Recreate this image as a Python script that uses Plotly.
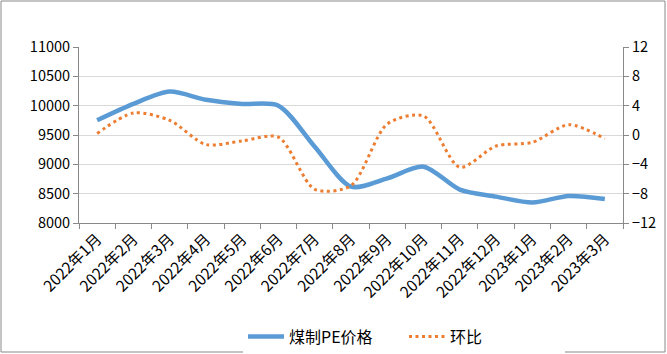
import plotly.graph_objects as go

categories = ["2022年1月", "2022年2月", "2022年3月", "2022年4月", "2022年5月", "2022年6月",
              "2022年7月", "2022年8月", "2022年9月", "2022年10月", "2022年11月", "2022年12月",
              "2023年1月", "2023年2月", "2023年3月"]
price = [9750, 10030, 10240, 10100, 10030, 10000, 9300, 8620, 8760, 8960, 8570, 8450, 8350, 8460, 8410]
mom = [0.2, 3.0, 2.0, -1.3, -0.8, -0.3, -7.4, -6.9, 1.5, 2.6, -4.4, -1.5, -1.0, 1.4, -0.5]

left_ticks = [8000, 8500, 9000, 9500, 10000, 10500, 11000]
left_labels = ["8000", "8500", "9000", "9500", "10000", "10500", "11000"]
right_ticks = [-12, -8, -4, 0, 4, 8, 12]

FONT = "Noto Sans CJK SC"

fig = go.Figure()
fig.add_trace(go.Scatter(x=categories, y=price, name="煤制PE价格", mode="lines",
                         line=dict(color="#5B9BD5", width=4.5, shape="spline", smoothing=0.8)))
fig.add_trace(go.Scatter(x=categories, y=mom, name="环比", mode="lines", yaxis="y2",
                         line=dict(color="#ED7D31", width=3, dash="3px,3.5px", shape="spline", smoothing=0.8)))

fig.update_layout(
    width=667, height=354,
    margin=dict(l=79, r=44, t=47, b=131, autoexpand=False),
    paper_bgcolor="white", plot_bgcolor="white",
    font=dict(family=FONT, size=14, color="black"),
    showlegend=True,
    legend=dict(orientation="h", x=(243 - 79) / 544, xanchor="left", y=-0.645, yanchor="middle",
                font=dict(size=16), itemwidth=36, entrywidth=110, tracegroupgap=0),
    xaxis=dict(type="category", tickangle=-45, ticks="outside", tickson="boundaries",
               ticklen=5, tickcolor="#898989", showline=True, linecolor="#898989",
               showgrid=False, tickfont=dict(size=15.5), range=[-0.5, 14.5], automargin=False),
    yaxis=dict(range=[8000, 11000], tickvals=left_ticks, ticktext=left_labels, ticks="outside", ticklen=5,
               tickcolor="#898989", showline=True, linecolor="#898989", automargin=False,
               gridcolor="#d9d9d9", gridwidth=1, tickfont=dict(size=14.5), zeroline=False),
    yaxis2=dict(range=[-12, 12], tickvals=right_ticks, overlaying="y", side="right",
                ticks="outside", ticklen=5, tickcolor="#898989", showline=True, automargin=False,
                linecolor="#898989", showgrid=False, zeroline=False, tickfont=dict(size=14.5)),
    shapes=[dict(type="rect", xref="paper", yref="paper", x0=-78/544, x1=1+42/544,
                 y0=-129/176, y1=1+46/176, line=dict(color="#898989", width=1))],
)

fig.write_html("out.html")
